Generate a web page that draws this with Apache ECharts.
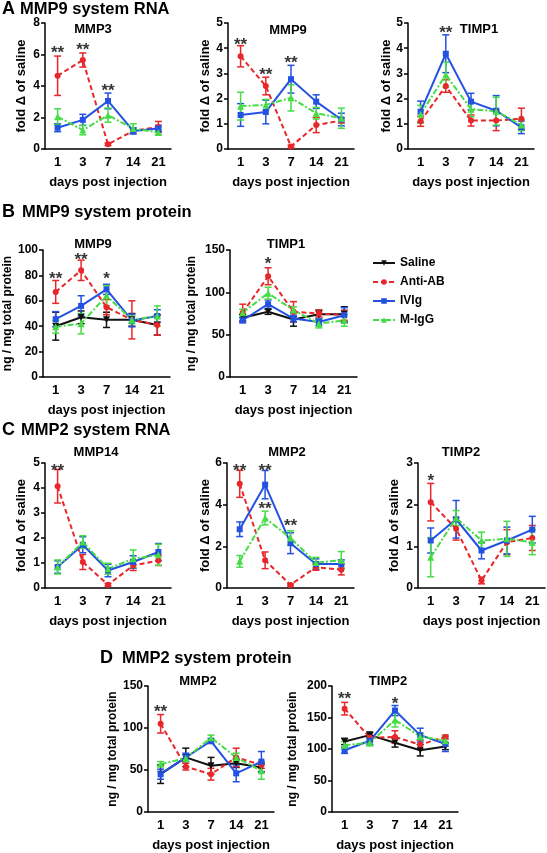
<!DOCTYPE html>
<html><head><meta charset="utf-8">
<script src="https://cdn.jsdelivr.net/npm/echarts@6/dist/echarts.min.js"></script>
<style>html,body{margin:0;padding:0;background:#fff}#c{width:547px;height:853px}</style>
</head><body><div id="c"></div>
<script>
// ---------- categories / groups ----------
const days = ['1', '3', '7', '14', '21'];
const groupNames = ['Saline', 'Anti-AB', 'IVIg', 'M-IgG'];

// ---------- A: MMP9 system RNA ----------
const mmp3Rna_anti = [4.65, 5.65, 0.3, 1.15, 1.4];
const mmp3Rna_antiErr = [1.25, 0.45, 0.08, 0.15, 0.35];
const mmp3Rna_ivig = [1.35, 1.85, 3.05, 1.15, 1.3];
const mmp3Rna_ivigErr = [0.25, 0.35, 0.5, 0.2, 0.2];
const mmp3Rna_migg = [2.05, 1.2, 2.15, 1.3, 1.05];
const mmp3Rna_miggErr = [0.5, 0.3, 0.45, 0.3, 0.15];
const mmp3Rna_stars = [['1', 6.3, '**'], ['3', 6.5, '**'], ['7', 3.9, '**']];

const mmp9Rna_anti = [3.68, 2.5, 0.1, 0.95, 1.13];
const mmp9Rna_antiErr = [0.42, 0.35, 0.05, 0.3, 0.1];
const mmp9Rna_ivig = [1.35, 1.47, 2.77, 1.88, 1.17];
const mmp9Rna_ivigErr = [0.45, 0.47, 0.55, 0.27, 0.25];
const mmp9Rna_migg = [1.7, 1.75, 2.03, 1.42, 1.22];
const mmp9Rna_miggErr = [0.55, 0.22, 0.52, 0.23, 0.4];
const mmp9Rna_stars = [['1', 4.27, '**'], ['3', 3.08, '**'], ['7', 3.54, '**']];

const timp1Rna_anti = [1.1, 2.5, 1.13, 1.13, 1.2];
const timp1Rna_antiErr = [0.2, 0.25, 0.22, 0.4, 0.42];
const timp1Rna_ivig = [1.48, 3.78, 1.88, 1.52, 0.86];
const timp1Rna_ivigErr = [0.42, 0.75, 0.33, 0.6, 0.25];
const timp1Rna_migg = [1.38, 2.95, 1.58, 1.5, 0.95];
const timp1Rna_miggErr = [0.35, 0.5, 0.3, 0.55, 0.22];
const timp1Rna_stars = [['3', 4.73, '**']];

// ---------- B: MMP9 system protein ----------
const mmp9Prot_saline = [40, 47, 45, 45, 41];
const mmp9Prot_salineErr = [11, 5, 6, 5, 8];
const mmp9Prot_anti = [67, 84, 55, 45, 41];
const mmp9Prot_antiErr = [9, 8, 6, 15, 8];
const mmp9Prot_ivig = [45.5, 56, 69, 44.5, 48];
const mmp9Prot_ivigErr = [6, 8, 4, 5, 5];
const mmp9Prot_migg = [39.5, 42, 64, 45, 48];
const mmp9Prot_miggErr = [5, 8, 8, 3, 8];
const mmp9Prot_stars = [['1', 80, '**'], ['3', 95, '**'], ['7', 80, '*']];

const timp1Prot_saline = [70, 77, 68, 74, 74];
const timp1Prot_salineErr = [4, 3, 8, 5, 9];
const timp1Prot_anti = [76, 119, 77, 75, 73];
const timp1Prot_antiErr = [10, 10, 12, 4, 6];
const timp1Prot_ivig = [67, 86, 69, 65, 73];
const timp1Prot_ivigErr = [3, 5, 4, 4, 9];
const timp1Prot_migg = [76, 99, 79, 63, 67];
const timp1Prot_miggErr = [4, 7, 4, 5, 7];
const timp1Prot_stars = [['3', 138, '*']];

// ---------- C: MMP2 system RNA ----------
const mmp14Rna_anti = [4.07, 1.04, 0.13, 0.9, 1.1];
const mmp14Rna_antiErr = [0.67, 0.3, 0.05, 0.2, 0.2];
const mmp14Rna_ivig = [0.84, 1.73, 0.7, 1.04, 1.44];
const mmp14Rna_ivigErr = [0.25, 0.32, 0.25, 0.25, 0.34];
const mmp14Rna_migg = [0.84, 1.84, 0.77, 1.17, 1.33];
const mmp14Rna_miggErr = [0.28, 0.25, 0.22, 0.35, 0.42];
const mmp14Rna_stars = [['1', 4.84, '**']];

const mmp2Rna_anti = [5.0, 1.33, 0.15, 1.0, 0.88];
const mmp2Rna_antiErr = [0.65, 0.4, 0.05, 0.15, 0.25];
const mmp2Rna_ivig = [2.82, 4.96, 2.15, 1.15, 1.15];
const mmp2Rna_ivigErr = [0.35, 0.68, 0.5, 0.25, 0.2];
const mmp2Rna_migg = [1.28, 3.36, 2.4, 1.22, 1.33];
const mmp2Rna_miggErr = [0.28, 0.33, 0.35, 0.25, 0.42];
const mmp2Rna_stars = [['1', 5.8, '**'], ['3', 5.8, '**'], ['3', 3.97, '**'], ['7', 3.17, '**']];

const timp2Rna_anti = [2.06, 1.42, 0.18, 1.1, 1.2];
const timp2Rna_antiErr = [0.45, 0.27, 0.08, 0.3, 0.3];
const timp2Rna_ivig = [1.14, 1.65, 0.9, 1.14, 1.4];
const timp2Rna_ivigErr = [0.3, 0.45, 0.2, 0.32, 0.32];
const timp2Rna_migg = [0.74, 1.68, 1.14, 1.18, 1.1];
const timp2Rna_miggErr = [0.47, 0.18, 0.2, 0.42, 0.3];
const timp2Rna_stars = [['1', 2.66, '*']];

// ---------- D: MMP2 system protein ----------
const mmp2Prot_saline = [45, 65, 55, 58, 53];
const mmp2Prot_salineErr = [11, 11, 10, 5, 5];
const mmp2Prot_anti = [105, 54, 45, 65, 56];
const mmp2Prot_antiErr = [11, 4, 7, 11, 4];
const mmp2Prot_ivig = [45, 65, 84.5, 46, 60];
const mmp2Prot_ivigErr = [6, 5, 3, 10, 12];
const mmp2Prot_migg = [57, 64, 88.5, 65, 49];
const mmp2Prot_miggErr = [3, 4, 3, 5, 10];
const mmp2Prot_stars = [['1', 123, '**']];

const timp2Prot_saline = [112, 122, 110, 98, 104];
const timp2Prot_salineErr = [5, 5, 7, 9, 5];
const timp2Prot_anti = [164, 118, 119, 107, 119];
const timp2Prot_antiErr = [10, 6, 10, 7, 3];
const timp2Prot_ivig = [98, 113, 161, 122, 108];
const timp2Prot_ivigErr = [5, 6, 8, 11, 12];
const timp2Prot_migg = [106, 110, 146, 120, 113];
const timp2Prot_miggErr = [6, 5, 11, 5, 8];
const timp2Prot_stars = [['1', 186, '**'], ['7', 178, '*']];

// ---------- styles ----------
const FONT = '"Liberation Sans", Arial, Helvetica, sans-serif';
const groupStyle = {
  'Saline': {color: '#111111', symbol: 'triangle', rotate: 180, size: 7, dash: 'solid'},
  'Anti-AB': {color: '#e8272b', symbol: 'circle', rotate: 0, size: 6, dash: [5, 3]},
  'IVIg': {color: '#2352e2', symbol: 'rect', rotate: 0, size: 6, dash: 'solid'},
  'M-IgG': {color: '#45dc45', symbol: 'triangle', rotate: 0, size: 7, dash: [6, 2, 2, 2]}
};

const RNA_NAME = 'fold \u0394 of saline';
const PROT_NAME = 'ng / mg total protein';

// ---------- panel layout ----------
const panels = [
  {grid: [45, 23, 126, 126], yMax: 8, yInt: 2, yName: RNA_NAME, yFs: 13, yGap: 17.5, title: 'MMP3', tx: 93, ty: 29,
   data: {'Anti-AB': [mmp3Rna_anti, mmp3Rna_antiErr], 'IVIg': [mmp3Rna_ivig, mmp3Rna_ivigErr], 'M-IgG': [mmp3Rna_migg, mmp3Rna_miggErr]}, stars: mmp3Rna_stars},
  {grid: [228, 23, 126, 126], yMax: 5, yInt: 1, yName: RNA_NAME, yFs: 13, yGap: 16.5, title: 'MMP9', tx: 288, ty: 30,
   data: {'Anti-AB': [mmp9Rna_anti, mmp9Rna_antiErr], 'IVIg': [mmp9Rna_ivig, mmp9Rna_ivigErr], 'M-IgG': [mmp9Rna_migg, mmp9Rna_miggErr]}, stars: mmp9Rna_stars},
  {grid: [408, 23, 126, 126], yMax: 5, yInt: 1, yName: RNA_NAME, yFs: 13, yGap: 12, title: 'TIMP1', tx: 479, ty: 29,
   data: {'Anti-AB': [timp1Rna_anti, timp1Rna_antiErr], 'IVIg': [timp1Rna_ivig, timp1Rna_ivigErr], 'M-IgG': [timp1Rna_migg, timp1Rna_miggErr]}, stars: timp1Rna_stars},
  {grid: [43, 250, 127, 127], yMax: 100, yInt: 20, yName: PROT_NAME, yFs: 12, yGap: 29, title: 'MMP9', tx: 93, ty: 244,
   data: {'Saline': [mmp9Prot_saline, mmp9Prot_salineErr], 'Anti-AB': [mmp9Prot_anti, mmp9Prot_antiErr], 'IVIg': [mmp9Prot_ivig, mmp9Prot_ivigErr], 'M-IgG': [mmp9Prot_migg, mmp9Prot_miggErr]}, stars: mmp9Prot_stars},
  {grid: [230, 250, 127, 127], yMax: 150, yInt: 50, yName: PROT_NAME, yFs: 12, yGap: 32, title: 'TIMP1', tx: 286, ty: 244,
   data: {'Saline': [timp1Prot_saline, timp1Prot_salineErr], 'Anti-AB': [timp1Prot_anti, timp1Prot_antiErr], 'IVIg': [timp1Prot_ivig, timp1Prot_ivigErr], 'M-IgG': [timp1Prot_migg, timp1Prot_miggErr]}, stars: timp1Prot_stars},
  {grid: [45, 463, 126, 125], yMax: 5, yInt: 1, yName: RNA_NAME, yFs: 13, yGap: 17.5, title: 'MMP14', tx: 96, ty: 452,
   data: {'Anti-AB': [mmp14Rna_anti, mmp14Rna_antiErr], 'IVIg': [mmp14Rna_ivig, mmp14Rna_ivigErr], 'M-IgG': [mmp14Rna_migg, mmp14Rna_miggErr]}, stars: mmp14Rna_stars},
  {grid: [227, 463, 127, 125], yMax: 6, yInt: 2, yName: RNA_NAME, yFs: 13, yGap: 15.5, title: 'MMP2', tx: 287, ty: 452,
   data: {'Anti-AB': [mmp2Rna_anti, mmp2Rna_antiErr], 'IVIg': [mmp2Rna_ivig, mmp2Rna_ivigErr], 'M-IgG': [mmp2Rna_migg, mmp2Rna_miggErr]}, stars: mmp2Rna_stars},
  {grid: [418, 463, 127, 125], yMax: 3, yInt: 1, yName: RNA_NAME, yFs: 13, yGap: 17.5, title: 'TIMP2', tx: 461, ty: 452,
   data: {'Anti-AB': [timp2Rna_anti, timp2Rna_antiErr], 'IVIg': [timp2Rna_ivig, timp2Rna_ivigErr], 'M-IgG': [timp2Rna_migg, timp2Rna_miggErr]}, stars: timp2Rna_stars},
  {grid: [148, 686, 126, 126], yMax: 150, yInt: 50, yName: PROT_NAME, yFs: 12, yGap: 29, title: 'MMP2', tx: 198, ty: 681,
   data: {'Saline': [mmp2Prot_saline, mmp2Prot_salineErr], 'Anti-AB': [mmp2Prot_anti, mmp2Prot_antiErr], 'IVIg': [mmp2Prot_ivig, mmp2Prot_ivigErr], 'M-IgG': [mmp2Prot_migg, mmp2Prot_miggErr]}, stars: mmp2Prot_stars},
  {grid: [332, 686, 126, 126], yMax: 200, yInt: 50, yName: PROT_NAME, yFs: 12, yGap: 33, title: 'TIMP2', tx: 388, ty: 681,
   data: {'Saline': [timp2Prot_saline, timp2Prot_salineErr], 'Anti-AB': [timp2Prot_anti, timp2Prot_antiErr], 'IVIg': [timp2Prot_ivig, timp2Prot_ivigErr], 'M-IgG': [timp2Prot_migg, timp2Prot_miggErr]}, stars: timp2Prot_stars}
];

const headers = [
  {letter: 'A', text: 'MMP9 system RNA', x: 2, tx: 20, y: 9},
  {letter: 'B', text: 'MMP9 system protein', x: 2, tx: 22, y: 212},
  {letter: 'C', text: 'MMP2 system RNA', x: 2, tx: 21, y: 430},
  {letter: 'D', text: 'MMP2 system protein', x: 100, tx: 122, y: 658}
];

function errRender(color) {
  return function (params, api) {
    const x = api.value(0);
    const lo = api.coord([x, api.value(1)]);
    const hi = api.coord([x, api.value(2)]);
    const w = 3.5;
    const style = {stroke: color, lineWidth: 1.5, fill: null};
    return {type: 'group', children: [
      {type: 'line', shape: {x1: lo[0], y1: lo[1], x2: hi[0], y2: hi[1]}, style: style},
      {type: 'line', shape: {x1: lo[0] - w, y1: lo[1], x2: lo[0] + w, y2: lo[1]}, style: style},
      {type: 'line', shape: {x1: hi[0] - w, y1: hi[1], x2: hi[0] + w, y2: hi[1]}, style: style}
    ]};
  };
}

const grids = [], xAxes = [], yAxes = [], series = [], graphics = [];
const txtStyle = {color: '#000', fontWeight: 'bold', fontFamily: FONT};

panels.forEach(function (p, i) {
  grids.push({left: p.grid[0], top: p.grid[1], width: p.grid[2], height: p.grid[3], containLabel: false, outerBoundsMode: 'none'});
  xAxes.push({
    type: 'category', gridIndex: i, data: days, boundaryGap: true,
    name: 'days post injection', nameLocation: 'middle', nameGap: 27,
    nameTextStyle: Object.assign({fontSize: 13}, txtStyle),
    axisLine: {lineStyle: {color: '#000', width: 1.5}},
    axisTick: {alignWithLabel: true, interval: 0, length: 4, lineStyle: {color: '#000', width: 1.5}},
    axisLabel: Object.assign({fontSize: 13, margin: 7, interval: 0}, txtStyle),
    splitLine: {show: false}
  });
  yAxes.push({
    type: 'value', gridIndex: i, min: 0, max: p.yMax, interval: p.yInt,
    name: p.yName, nameLocation: 'middle', nameGap: p.yGap,
    nameTextStyle: Object.assign({fontSize: p.yFs}, txtStyle),
    axisLine: {show: true, lineStyle: {color: '#000', width: 1.5}},
    axisTick: {show: true, length: 4, lineStyle: {color: '#000', width: 1.5}},
    axisLabel: Object.assign({fontSize: 12, margin: 5}, txtStyle),
    splitLine: {show: false}
  });
  groupNames.forEach(function (g) {
    const d = p.data[g];
    if (!d) return;
    const st = groupStyle[g];
    const means = d[0], errs = d[1];
    series.push({
      type: 'custom', name: g + ' err', xAxisIndex: i, yAxisIndex: i, silent: true,
      renderItem: errRender(st.color), encode: {x: 0, y: [1, 2]},
      data: means.map(function (m, k) { return [k, m - errs[k], m + errs[k]]; }),
      z: 2
    });
    series.push({
      type: 'line', name: g, xAxisIndex: i, yAxisIndex: i, data: means,
      symbol: st.symbol, symbolSize: st.size, symbolRotate: st.rotate, showSymbol: true,
      itemStyle: {color: st.color},
      lineStyle: {color: st.color, width: 2, type: st.dash},
      z: 3
    });
  });
  series.push({
    type: 'scatter', name: 'sig', xAxisIndex: i, yAxisIndex: i, silent: true,
    symbolSize: 2, itemStyle: {color: 'rgba(0,0,0,0)'},
    data: p.stars.map(function (s) { return {value: [days.indexOf(s[0]), s[1]], txt: s[2]}; }),
    label: {show: true, position: 'inside', offset: [0, 4], formatter: function (q) { return q.data.txt; },
            fontSize: 17, fontWeight: 'bold', fontFamily: FONT, color: '#000'},
    z: 5
  });
  graphics.push({type: 'text', x: p.tx, y: p.ty, style: {text: p.title, font: 'bold 13px ' + FONT, fill: '#000', textAlign: 'center', textVerticalAlign: 'middle', align: 'center', verticalAlign: 'middle'}});
});

headers.forEach(function (h) {
  graphics.push({type: 'text', x: h.x, y: h.y, style: {text: h.letter, font: 'bold 18px ' + FONT, fill: '#000', textAlign: 'left', textVerticalAlign: 'middle', align: 'left', verticalAlign: 'middle'}});
  graphics.push({type: 'text', x: h.tx, y: h.y, style: {text: h.text, font: 'bold 16.5px ' + FONT, fill: '#000', textAlign: 'left', textVerticalAlign: 'middle', align: 'left', verticalAlign: 'middle'}});
});

const chart = echarts.init(document.getElementById('c'), null, {renderer: 'canvas', width: 547, height: 853});
chart.setOption({
  animation: false,
  backgroundColor: '#fff',
  grid: grids, xAxis: xAxes, yAxis: yAxes, series: series,
  legend: {
    data: groupNames, orient: 'vertical', left: 372, top: 257, padding: 0,
    itemWidth: 22, itemHeight: 7, itemGap: 7,
    textStyle: Object.assign({fontSize: 12}, txtStyle)
  },
  graphic: graphics
});
</script></body></html>
